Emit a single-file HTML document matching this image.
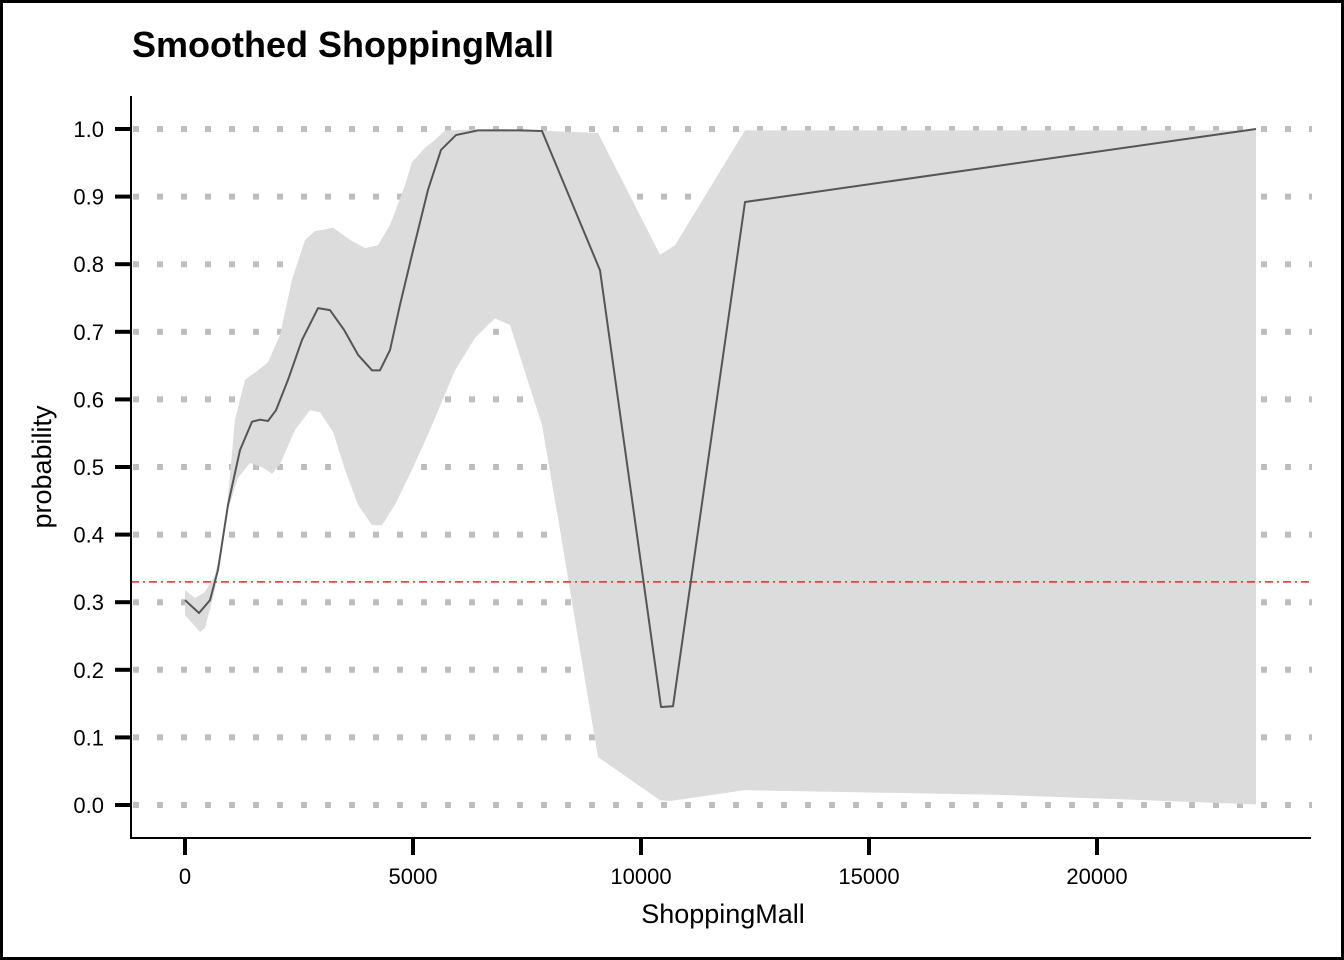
<!DOCTYPE html>
<html><head><meta charset="utf-8"><style>
html,body{margin:0;padding:0;background:#fff}
svg{display:block;font-family:"Liberation Sans",sans-serif}
</style></head><body>
<svg id="chart" width="1344" height="960" viewBox="0 0 1344 960">
<rect x="1.5" y="1.5" width="1341" height="957" fill="#fff" stroke="#000" stroke-width="3"/>
<text x="132" y="57" font-size="36" font-weight="bold">Smoothed ShoppingMall</text>
<g id="grid"></g><g id="band"></g><g id="lines"></g><g id="axes"></g>
<text x="723" y="923" font-size="27" text-anchor="middle">ShoppingMall</text>
<text transform="translate(51,467) rotate(-90)" font-size="27" text-anchor="middle">probability</text>
</svg>
<script>
const lineX=[0,307,548,724,943,1206,1469,1645,1820,1996,2259,2566,2917,3180,3487,3794,4101,4276,4496,4715,4978,5329,5614,5943,6425,7346,7829,9101,10439,10702,12281,23487];
const lineY=[0.303,0.284,0.303,0.348,0.444,0.525,0.567,0.570,0.568,0.584,0.629,0.688,0.735,0.732,0.703,0.666,0.643,0.643,0.673,0.740,0.814,0.910,0.969,0.991,0.998,0.998,0.997,0.791,0.145,0.146,0.892,1.0];
const upX=[0,219,439,658,877,1096,1316,1601,1820,2083,2346,2632,2851,3246,3618,3947,4232,4496,4825,4978,5263,5482,5702,6908,9057,10417,10746,12281,23487];
const upY=[0.318,0.306,0.315,0.340,0.407,0.570,0.629,0.643,0.655,0.695,0.777,0.836,0.849,0.854,0.836,0.824,0.828,0.858,0.917,0.951,0.972,0.984,0.998,1.0,0.994,0.814,0.828,0.998,0.998];
const loX=[0,329,439,658,877,1162,1425,1711,1908,2083,2412,2741,2961,3246,3509,3794,4101,4320,4605,4978,5373,5921,6360,6798,7127,7829,8224,8662,9057,10417,10636,12281,17873,23487];
const loY=[0.281,0.256,0.262,0.318,0.422,0.484,0.506,0.499,0.490,0.504,0.555,0.584,0.581,0.552,0.496,0.444,0.414,0.414,0.444,0.496,0.555,0.643,0.691,0.720,0.710,0.562,0.407,0.229,0.071,0.007,0.006,0.022,0.015,0.001];
const baseline=[0.33];
const xTicks=[0,5000,10000,15000,20000];
const yTicks=[0,0.1,0.2,0.3,0.4,0.5,0.6,0.7,0.8,0.9,1.0];
const NS="http://www.w3.org/2000/svg";
const sx=v=>185+v*0.0456, sy=v=>805-v*676;
function mk(p,t,a){const e=document.createElementNS(NS,t);for(const k in a)e.setAttribute(k,a[k]);document.getElementById(p).appendChild(e);return e;}
function smooth(xs,ys,move){
 const P=xs.map((x,i)=>[sx(x),sy(ys[i])]);
 let d=(move?'M':'L')+P[0][0]+' '+P[0][1];
 for(let i=1;i<P.length;i++)d+='L'+P[i][0]+' '+P[i][1];
 return d;
}
yTicks.forEach(t=>{
 const g=mk('grid','line',{x1:133,x2:1312,y1:sy(t),y2:sy(t),stroke:'#bebebe','stroke-width':6,'stroke-dasharray':'6 18'});
 
 
 const k=mk('axes','line',{x1:115,x2:131,y1:sy(t),y2:sy(t),stroke:'#000','stroke-width':4});
 
 
 const l=mk('axes','text',{x:104,y:sy(t)+8,'font-size':22,'text-anchor':'end'});l.textContent=t.toFixed(1);
 
 
});
xTicks.forEach(t=>{
 const k=mk('axes','line',{x1:sx(t),x2:sx(t),y1:838,y2:855,stroke:'#000','stroke-width':4});
 
 
 const l=mk('axes','text',{x:sx(t),y:884,'font-size':22,'text-anchor':'middle'});l.textContent=t;
 
 
});
const ax=mk('axes','path',{d:'M131 96V838H1311',fill:'none',stroke:'#000','stroke-width':2});


let d=smooth(upX,upY,true);
for(let i=loX.length-1;i>=0;i--)d+='L'+sx(loX[i])+' '+sy(loY[i]);
const b=mk('band','path',{d:d+'Z',fill:'#dcdcdc'});


const r=mk('lines','line',{x1:131,x2:1312,y1:sy(baseline[0]),y2:sy(baseline[0]),stroke:'#ff2020','stroke-width':1.5,'stroke-dasharray':'8 4 2 4'});


const ln=mk('lines','path',{d:smooth(lineX,lineY,true),fill:'none',stroke:'#555','stroke-width':2,'stroke-linejoin':'round'});


</script>
</body></html>
